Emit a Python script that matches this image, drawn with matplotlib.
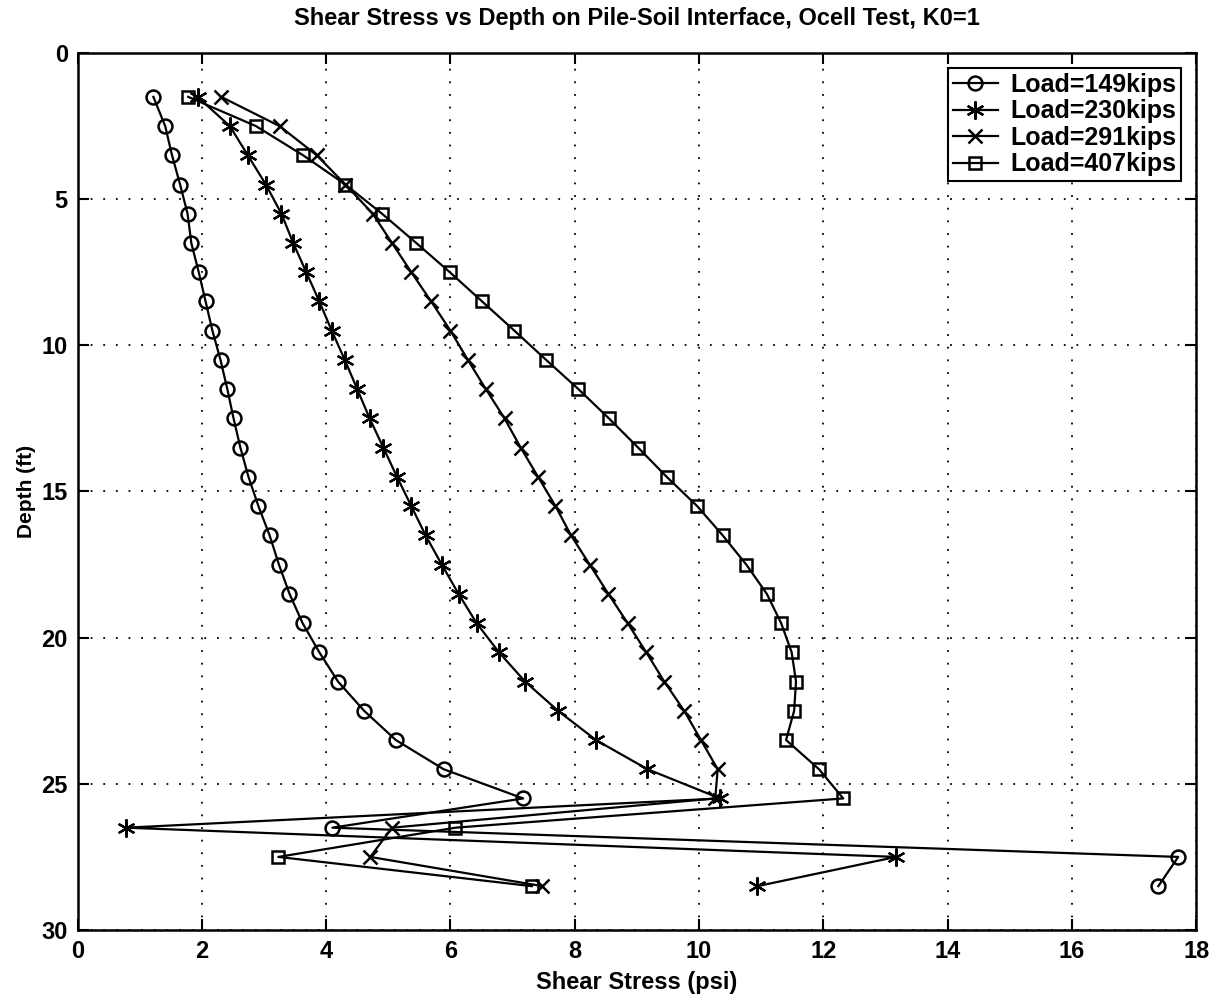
import matplotlib
matplotlib.use("Agg")
import matplotlib.pyplot as plt

plt.rcParams['font.family'] = ['Liberation Sans', 'DejaVu Sans']
plt.rcParams['font.weight'] = 'bold'

# depth of each reading (ft)
depth = [1.5, 2.5, 3.5, 4.5, 5.5, 6.5, 7.5, 8.5, 9.5, 10.5,
         11.5, 12.5, 13.5, 14.5, 15.5, 16.5, 17.5, 18.5, 19.5, 20.5,
         21.5, 22.5, 23.5, 24.5, 25.5, 26.5, 27.5, 28.5]

# shear stress (psi) for each load
tau_149 = [1.22, 1.41, 1.52, 1.65, 1.77, 1.83, 1.95, 2.06, 2.17, 2.30,
           2.41, 2.51, 2.62, 2.75, 2.91, 3.09, 3.24, 3.41, 3.62, 3.89,
           4.19, 4.61, 5.12, 5.89, 7.17, 4.10, 17.71, 17.39]
tau_230 = [1.93, 2.45, 2.74, 3.03, 3.28, 3.47, 3.68, 3.89, 4.09, 4.30,
           4.50, 4.70, 4.92, 5.14, 5.37, 5.60, 5.86, 6.13, 6.42, 6.78,
           7.20, 7.73, 8.34, 9.17, 10.34, 0.78, 13.17, 10.94]
tau_291 = [2.31, 3.25, 3.85, 4.31, 4.75, 5.06, 5.37, 5.69, 6.00, 6.28,
           6.57, 6.87, 7.13, 7.41, 7.69, 7.94, 8.24, 8.54, 8.85, 9.15,
           9.44, 9.76, 10.03, 10.30, 10.26, 5.06, 4.71, 7.48]
tau_407 = [1.78, 2.87, 3.63, 4.31, 4.90, 5.45, 5.99, 6.51, 7.03, 7.54,
           8.06, 8.55, 9.02, 9.48, 9.97, 10.38, 10.76, 11.09, 11.32, 11.49,
           11.56, 11.53, 11.40, 11.93, 12.32, 6.08, 3.23, 7.31]

labels = ['Load=149kips', 'Load=230kips', 'Load=291kips', 'Load=407kips']

fig = plt.figure(figsize=(12.12, 10), dpi=100)
ax = fig.add_axes([0.064, 0.07, 0.923, 0.877])

asterisk = (6, 2, 0)
ax.plot(tau_149, depth, 'k-', marker='o', mfc='none', ms=10, mew=1.8, lw=1.6, label=labels[0])
ax.plot(tau_230, depth, 'k-', marker=asterisk, ms=13, mew=1.6, lw=1.6, label=labels[1])
ax.plot(tau_291, depth, 'k-', marker='x', ms=10, mew=1.8, lw=1.6, label=labels[2])
ax.plot(tau_407, depth, 'k-', marker='s', mfc='none', ms=9, mew=1.8, lw=1.6, label=labels[3])

ax.set_xlim(0, 18)
ax.set_ylim(30, 0)
ax.set_xticks(range(0, 19, 2))
ax.set_yticks(range(0, 31, 5))
ax.grid(True, color='k', linestyle=(0, (1, 6)), linewidth=1.3)
ax.tick_params(direction='in', length=8, width=1.5, top=True, right=True,
               labelsize=17, pad=7)
for s in ax.spines.values():
    s.set_linewidth(1.8)

ax.set_title('Shear Stress vs Depth on Pile-Soil Interface, Ocell Test, K0=1',
             fontsize=17, fontweight='bold', pad=20)
ax.set_xlabel('Shear Stress (psi)', fontsize=17, fontweight='bold', labelpad=6)
ax.set_ylabel('Depth (ft)', fontsize=15, fontweight='bold', labelpad=4)

leg = ax.legend(loc='upper right', fontsize=18, frameon=True, fancybox=False,
                edgecolor='k', framealpha=1, borderpad=0.2, labelspacing=0.1,
                handlelength=1.8, handletextpad=0.5, borderaxespad=0.6)
leg.get_frame().set_linewidth(1.5)

fig.savefig('out.png', dpi=100)
